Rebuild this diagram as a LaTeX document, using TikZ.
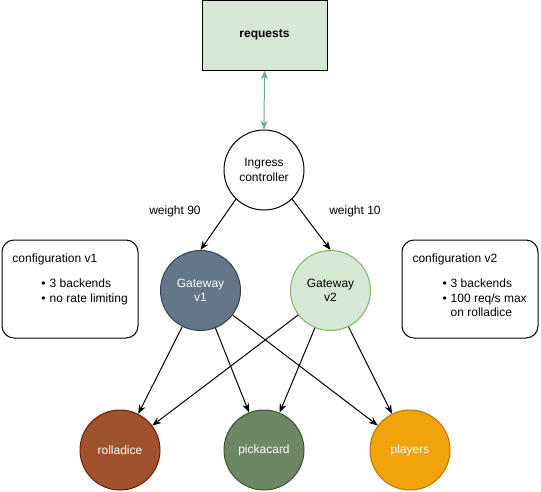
\documentclass[tikz,border=0pt]{standalone}
\usepackage{fontspec}
\setmainfont{Liberation Sans}
\usetikzlibrary{arrows.meta,calc}
\definecolor{reqgreen}{RGB}{213,232,212}
\definecolor{leafline}{RGB}{130,179,102}
\definecolor{tealink}{RGB}{103,171,159}
\definecolor{slatefill}{RGB}{100,118,135}
\definecolor{slateline}{RGB}{49,67,84}
\definecolor{rustfill}{RGB}{160,82,45}
\definecolor{rustline}{RGB}{109,31,0}
\definecolor{mossfill}{RGB}{109,135,100}
\definecolor{mossline}{RGB}{58,84,49}
\definecolor{amberfill}{RGB}{240,163,10}
\definecolor{amberline}{RGB}{189,112,0}

\begin{document}
\begin{tikzpicture}[x=1pt, y=-1pt, line width=1pt,
    every node/.style={font=\fontsize{12}{14.5}\selectfont},
    svc/.style={circle, draw, minimum size=80pt, inner sep=0pt, align=center},
    cfgbox/.style={draw, rounded corners=12pt, minimum width=136pt, minimum height=98pt},
    plain/.style={inner sep=0pt},
    flow/.style={-{Stealth[length=9pt,width=7pt]}}]
    \useasboundingbox (0,0) rectangle (541,491);

    % Requests
    \node (requests) [draw, fill=reqgreen, minimum width=125pt, minimum height=70pt,
        font=\fontsize{12}{14.5}\selectfont\bfseries] at (264.5,35) {requests};

    % Ingress
    \node (ingress) [svc, fill=white] at (264,170) {Ingress\\controller};
    \draw[tealink, {Stealth[length=9pt,width=7pt]}-{Stealth[length=9pt,width=7pt]}]
        (requests.south) -- (ingress.north);

    % Gateways
    \node (gw1) [svc, fill=slatefill, draw=slateline, text=white] at (200.5,290.5) {Gateway\\v1};
    \node (gw2) [svc, fill=reqgreen, draw=leafline] at (330.5,290.5) {Gateway\\v2};
    \draw[flow] (ingress.-134) -- (gw1.north);
    \draw[flow] (ingress.-46) -- (gw2.north);
    \node (w90) [plain] at (175,211) {weight 90};
    \node (w10) [plain] at (355,211) {weight 10};

    % Configuration boxes
    \node (cfg1) [cfgbox] at (70,289) {};
    \node (cfg1title) [plain, anchor=base west] at (12,262) {configuration v1};
    \node (cfg1list) [plain, anchor=north west] at (41,277) {%
        \begin{tabular}{@{}l@{\hspace{4pt}}l@{}}
        \textbullet & 3 backends\\
        \textbullet & no rate limiting
        \end{tabular}};

    \node (cfg2) [cfgbox] at (470,289) {};
    \node (cfg2title) [plain, anchor=base west] at (412,262) {configuration v2};
    \node (cfg2list) [plain, anchor=north west] at (442,277) {%
        \begin{tabular}{@{}l@{\hspace{4pt}}l@{}}
        \textbullet & 3 backends\\
        \textbullet & 100 req/s max\\
                    & on rolladice
        \end{tabular}};

    % Backends
    \node (rolladice) [svc, fill=rustfill, draw=rustline, text=white] at (120,450) {rolladice};
    \node (pickacard) [svc, fill=mossfill, draw=mossline, text=white] at (264,450) {pickacard};
    \node (players) [svc, fill=amberfill, draw=amberline, text=white] at (410,450) {players};

    \foreach \gw in {gw1,gw2} {
        \foreach \svc in {rolladice,pickacard,players} {
            \draw[flow] (\gw) -- (\svc);
        }
    }
\end{tikzpicture}
\end{document}
